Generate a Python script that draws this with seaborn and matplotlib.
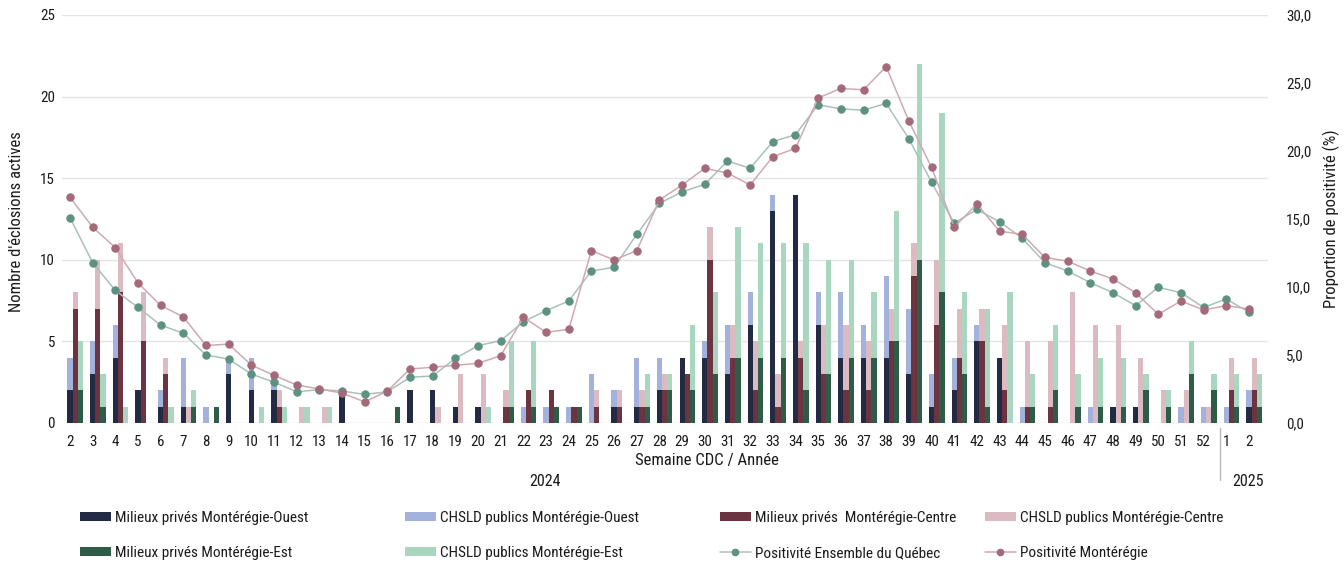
import matplotlib
matplotlib.use("Agg")
import matplotlib.pyplot as plt
from matplotlib import font_manager
from matplotlib.patches import Patch
from matplotlib.lines import Line2D
from matplotlib.ticker import FuncFormatter
import seaborn as sns
import pandas as pd
import numpy as np

# semaines CDC : 2 a 52 de 2024, puis 1 et 2 de 2025
weeks = [str(w) for w in range(2, 53)] + ['1', '2']

# eclosions actives (milieux prives et total prives + CHSLD publics)
mo_prive = [2, 3, 4, 2, 1, 1, 0, 3, 2, 2, 0, 0, 2, 0, 0, 2, 2, 1, 1, 0,
            0, 0, 0, 0, 1, 1, 2, 4, 4, 3, 6, 13, 14, 6, 4, 4, 4, 3, 1, 2,
            5, 4, 0, 0, 0, 0, 1, 1, 0, 0, 0, 0, 1]
mo_total = [4, 5, 6, 2, 2, 4, 1, 4, 4, 3, 0, 0, 2, 0, 0, 2, 2, 1, 1, 0,
            1, 1, 1, 3, 2, 4, 4, 4, 5, 6, 8, 14, 14, 8, 8, 6, 9, 7, 3, 4,
            6, 4, 1, 0, 0, 1, 1, 1, 0, 1, 1, 1, 2]
mc_prive = [7, 7, 8, 5, 3, 0, 0, 0, 0, 1, 0, 0, 0, 0, 0, 0, 0, 0, 0, 1,
            2, 2, 1, 1, 1, 1, 2, 3, 10, 4, 2, 1, 4, 3, 2, 2, 5, 9, 6, 4,
            5, 2, 1, 1, 0, 0, 0, 0, 0, 0, 0, 2, 2]
mc_total = [8, 10, 11, 8, 4, 1, 0, 0, 0, 2, 1, 1, 0, 0, 0, 0, 1, 3, 3, 2,
            2, 2, 1, 2, 2, 2, 3, 3, 12, 6, 5, 3, 5, 6, 6, 5, 7, 11, 10, 7,
            7, 6, 5, 5, 8, 6, 6, 4, 2, 2, 1, 4, 4]
me_prive = [2, 1, 0, 0, 0, 1, 1, 0, 0, 0, 0, 0, 0, 0, 1, 0, 0, 0, 0, 1,
            1, 1, 1, 0, 0, 1, 2, 2, 3, 4, 4, 4, 2, 3, 4, 4, 5, 10, 8, 3,
            1, 0, 1, 2, 1, 1, 1, 2, 1, 3, 2, 1, 1]
me_total = [5, 3, 1, 0, 1, 2, 1, 0, 1, 1, 1, 1, 0, 0, 1, 0, 0, 0, 1, 5,
            5, 1, 1, 0, 0, 3, 3, 6, 8, 12, 11, 11, 11, 10, 10, 8, 13, 22, 19, 8,
            7, 8, 3, 6, 3, 4, 4, 3, 2, 5, 3, 3, 3]

# positivite (%)
qc_pos = [15.1, 11.8, 9.75, 8.5, 7.2, 6.6, 5.0, 4.7, 3.6, 3.0, 2.3, 2.45, 2.35,
          2.1, 2.3, 3.36, 3.46, 4.75, 5.69, 6.05, 7.45, 8.26, 8.97, 11.18,
          11.45, 13.87, 16.15, 17.0, 17.55, 19.26, 18.73, 20.69, 21.2, 23.4,
          23.1, 23.0, 23.5, 20.9, 17.7, 14.7, 15.7, 14.8, 13.58, 11.79, 11.18,
          10.32, 9.58, 8.63, 9.98, 9.58, 8.5, 9.12, 8.14]
mont_pos = [16.6, 14.4, 12.9, 10.3, 8.65, 7.8, 5.7, 5.8, 4.26, 3.5, 2.8, 2.5,
            2.2, 1.55, 2.35, 3.97, 4.1, 4.24, 4.39, 4.95, 7.77, 6.67, 6.89,
            12.67, 11.99, 12.67, 16.4, 17.5, 18.73, 18.38, 17.5, 19.58, 20.2,
            23.9, 24.6, 24.5, 26.2, 22.2, 18.8, 14.4, 16.1, 14.1, 13.87, 12.18,
            11.9, 11.18, 10.59, 9.58, 7.99, 8.97, 8.31, 8.63, 8.38]

regions = ['Ouest', 'Centre', 'Est']
dark = ['#222a44', '#6c3440', '#2e5d47']
light = ['#a2b2dc', '#dcbac1', '#a9d6bf']
qc_col, qc_line = '#5d9282', '#a9c2b9'
mt_col, mt_line = '#a46a7a', '#cfaab3'


def pick_font():
    # narrow font if there is one, else plain Liberation Sans a bit smaller
    ents = font_manager.fontManager.ttflist
    names = {f.name for f in ents}
    for nm in ['Liberation Sans Narrow', 'Roboto Condensed', 'Arial Narrow']:
        if nm in names:
            return nm, 'normal', 1.0
    for f in ents:
        if f.name == 'Noto Sans' and f.stretch == 'condensed':
            return 'Noto Sans', 'condensed', 0.95
    return 'Liberation Sans', 'normal', 0.88


def main():
    sns.set_style('white')
    fam, stretch, k = pick_font()
    plt.rcParams['font.family'] = [fam, 'DejaVu Sans']
    plt.rcParams['font.stretch'] = stretch
    txt = '#1a1a1a'

    n = len(weeks)
    df = pd.DataFrame({
        'idx': np.tile(np.arange(n), 3),
        'region': np.repeat(regions, n),
        'total': mo_total + mc_total + me_total,
        'prive': mo_prive + mc_prive + me_prive,
    })

    fig = plt.figure(figsize=(13.44, 5.62), dpi=100)
    ax = fig.add_axes([62 / 1344, 1 - 423 / 562, 1206 / 1344, 408 / 562])

    # public = total drawn first, private over it
    sns.barplot(data=df, x='idx', y='total', hue='region', hue_order=regions,
                order=list(range(n)), palette=light, width=0.69, saturation=1,
                linewidth=0, legend=False, ax=ax)
    sns.barplot(data=df, x='idx', y='prive', hue='region', hue_order=regions,
                order=list(range(n)), palette=dark, width=0.69, saturation=1,
                linewidth=0, legend=False, ax=ax)

    pos = np.arange(n) - 0.23
    ax2 = ax.twinx()
    sns.lineplot(x=pos, y=qc_pos, ax=ax2, color=qc_line, linewidth=1.1,
                 marker='o', markersize=5.3, mfc=qc_col, mec=qc_col)
    sns.lineplot(x=pos, y=mont_pos, ax=ax2, color=mt_line, linewidth=1.1,
                 marker='o', markersize=5.3, mfc=mt_col, mec=mt_col)

    ax.set_ylim(0, 25)
    ax.set_yticks(range(0, 26, 5))
    ax2.set_ylim(0, 30)
    ax2.set_yticks(range(0, 31, 5))
    ax2.yaxis.set_major_formatter(FuncFormatter(lambda v, p: f'{v:.1f}'.replace('.', ',')))
    ax.set_xticks(pos)
    ax.set_xticklabels(weeks)
    ax.set_xlim(-0.58, 52.61)
    ax2.set_xlim(-0.58, 52.61)

    ax.set_axisbelow(True)
    ax.yaxis.grid(True, color='#e4e4e4', linewidth=1)
    ax.xaxis.grid(False)
    for a in (ax, ax2):
        for s in a.spines.values():
            s.set_visible(False)
        a.set_xlabel('')
        a.set_ylabel('')
    ax.tick_params(axis='x', length=0, pad=9, labelsize=10.8 * k, labelcolor=txt)
    ax.tick_params(axis='y', length=0, pad=5, labelsize=10.8 * k, labelcolor=txt)
    ax2.tick_params(axis='y', length=0, pad=13, labelsize=10.8 * k, labelcolor=txt)

    fig.text(17 / 1344, 1 - 222 / 562, "Nombre d'éclosions actives", rotation=90,
             ha='center', va='center', fontsize=12 * k, color=txt)
    fig.text(1331 / 1344, 1 - 219 / 562, 'Proportion de positivité (%)', rotation=90,
             ha='center', va='center', fontsize=12 * k, color=txt)
    fig.text(707 / 1344, 1 - 461 / 562, 'Semaine CDC / Année', ha='center',
             va='center', fontsize=12 * k, color=txt)
    fig.text(545 / 1344, 1 - 481 / 562, '2024', ha='center', va='center',
             fontsize=11.5 * k, color=txt)
    fig.text(1248 / 1344, 1 - 481 / 562, '2025', ha='center', va='center',
             fontsize=11.5 * k, color=txt)
    fig.add_artist(Line2D([1220 / 1344] * 2, [1 - 428 / 562, 1 - 480 / 562],
                          color='#b8b8b8', linewidth=1))

    # legend in four columns
    cols = [
        ([Patch(facecolor=dark[0], edgecolor='none'), Patch(facecolor=dark[2], edgecolor='none')],
         ['Milieux privés Montérégie-Ouest', 'Milieux privés Montérégie-Est'], 80),
        ([Patch(facecolor=light[0], edgecolor='none'), Patch(facecolor=light[2], edgecolor='none')],
         ['CHSLD publics Montérégie-Ouest', 'CHSLD publics Montérégie-Est'], 405),
        ([Patch(facecolor=dark[1], edgecolor='none'),
          Line2D([0], [0], color=qc_line, lw=1.1, marker='o', ms=4.5, mfc=qc_col, mec=qc_col)],
         ['Milieux privés  Montérégie-Centre', 'Positivité Ensemble du Québec'], 720),
        ([Patch(facecolor=light[1], edgecolor='none'),
          Line2D([0], [0], color=mt_line, lw=1.1, marker='o', ms=4.5, mfc=mt_col, mec=mt_col)],
         ['CHSLD publics Montérégie-Centre', 'Positivité Montérégie'], 985),
    ]
    for handles, labels, x in cols:
        fig.legend(handles, labels, loc='upper left', bbox_to_anchor=(x / 1344, 1 - 511 / 562),
                   frameon=False, borderaxespad=0, borderpad=0, handlelength=2.0 / k,
                   handleheight=0.55, handletextpad=0.3, labelspacing=1.38,
                   fontsize=11 * k, labelcolor=txt)

    fig.savefig('out.png', dpi=100)


if __name__ == '__main__':
    main()
